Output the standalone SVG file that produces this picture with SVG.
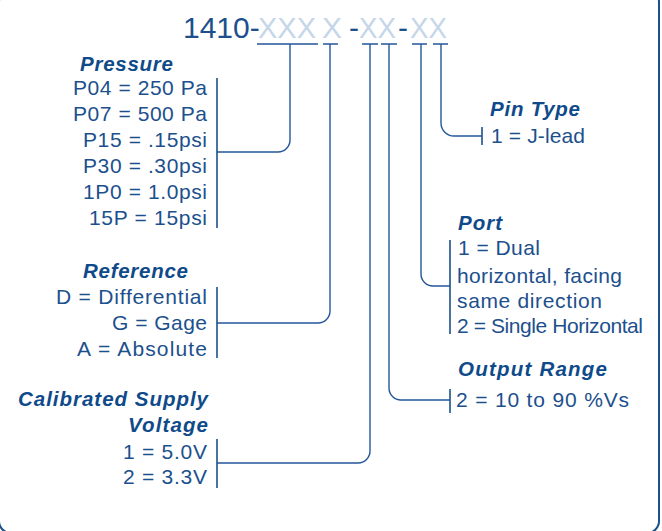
<svg xmlns="http://www.w3.org/2000/svg" width="662" height="531" viewBox="0 0 662 531">
<style>
text{font-family:"Liberation Sans",Arial,Helvetica,sans-serif;fill:#1c508d;font-size:21px}
.h{font-weight:bold;font-style:italic;fill:#0f4a8a;font-size:20.5px}
.code{font-size:30px}
.x{fill:#c6d6e9}
.ln{fill:none;stroke:#24579a;stroke-width:1.4}
.br{fill:none;stroke:#1c508d;stroke-width:1.6}
</style>
<rect x="-1" y="-10" width="660" height="543" rx="12" fill="none" stroke="#1a4f8b" stroke-width="2"/>
<g id="code">
<text class="code" x="183" y="37.5">1410-</text>
<text class="code x" x="258" y="37.5" textLength="58" lengthAdjust="spacingAndGlyphs">XXX</text>
<text class="code x" x="322" y="37.5">X</text>
<text class="code" x="349" y="37.5">-</text>
<text class="code x" x="359" y="37.5" textLength="37" lengthAdjust="spacingAndGlyphs">XX</text>
<text class="code" x="398" y="37.5">-</text>
<text class="code x" x="410" y="37.5" textLength="37" lengthAdjust="spacingAndGlyphs">XX</text>
</g>
<g id="connectors">
<path class="ln" d="M257,44H318M290,44V140A12,12 0 0 1 278,152H217"/>
<path class="ln" d="M323,44H338M330,44V311A12,12 0 0 1 318,323H217"/>
<path class="ln" d="M362,44H378M370,44V451A12,12 0 0 1 358,463H217"/>
<path class="ln" d="M381,44H397M389,44V388A12,12 0 0 0 401,400H450"/>
<path class="ln" d="M412,44H427M421,44V274A12,12 0 0 0 433,286H450"/>
<path class="ln" d="M433,44H448M441,44V123A13,13 0 0 0 454,136H482"/>
</g>
<g id="pressure">
<path class="br" d="M217,78V228"/>
<text class="h" x="80" y="71" textLength="93" lengthAdjust="spacing">Pressure</text>
<text x="73" y="95" textLength="134" lengthAdjust="spacing">P04 = 250 Pa</text>
<text x="73" y="121" textLength="134" lengthAdjust="spacing">P07 = 500 Pa</text>
<text x="83" y="147" textLength="124" lengthAdjust="spacing">P15 = .15psi</text>
<text x="83" y="173" textLength="124" lengthAdjust="spacing">P30 = .30psi</text>
<text x="83" y="199" textLength="124" lengthAdjust="spacing">1P0 = 1.0psi</text>
<text x="89" y="225" textLength="118" lengthAdjust="spacing">15P = 15psi</text>
</g>
<g id="reference">
<path class="br" d="M217,287V358"/>
<text class="h" x="83" y="278" textLength="105" lengthAdjust="spacing">Reference</text>
<text x="56" y="304" textLength="151" lengthAdjust="spacing">D = Differential</text>
<text x="112" y="330" textLength="95" lengthAdjust="spacing">G = Gage</text>
<text x="77" y="356" textLength="130" lengthAdjust="spacing">A = Absolute</text>
</g>
<g id="voltage">
<path class="br" d="M217,439V488"/>
<text class="h" x="18" y="406" textLength="190" lengthAdjust="spacing">Calibrated Supply</text>
<text class="h" x="128" y="432" textLength="80" lengthAdjust="spacing">Voltage</text>
<text x="123" y="459" textLength="84" lengthAdjust="spacing">1 = 5.0V</text>
<text x="123" y="484" textLength="84" lengthAdjust="spacing">2 = 3.3V</text>
</g>
<g id="pintype">
<path class="br" d="M482,127V145"/>
<text class="h" x="490" y="116" textLength="90" lengthAdjust="spacing">Pin Type</text>
<text x="491" y="143" textLength="94" lengthAdjust="spacing">1 = J-lead</text>
</g>
<g id="port">
<path class="br" d="M450,240V334"/>
<text class="h" x="458" y="230" textLength="44" lengthAdjust="spacing">Port</text>
<text x="458" y="255" textLength="82" lengthAdjust="spacing">1 = Dual</text>
<text x="457" y="283" textLength="165" lengthAdjust="spacing">horizontal, facing</text>
<text x="457" y="308" textLength="145" lengthAdjust="spacing">same direction</text>
<text x="457" y="333" textLength="186" lengthAdjust="spacing">2 = Single Horizontal</text>
</g>
<g id="output">
<path class="br" d="M450,389V413"/>
<text class="h" x="458" y="376" textLength="149" lengthAdjust="spacing">Output Range</text>
<text x="456" y="407" textLength="173" lengthAdjust="spacing">2 = 10 to 90 %Vs</text>
</g>
</svg>
